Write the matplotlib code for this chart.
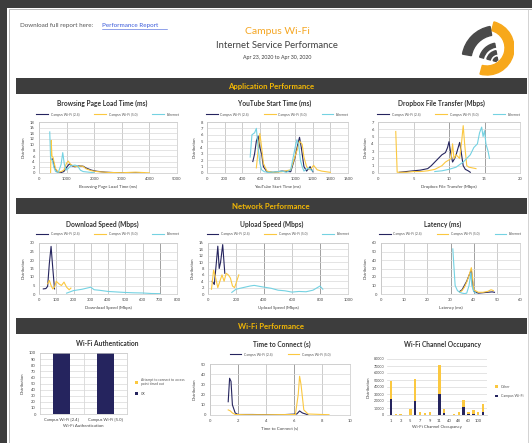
import numpy as np
import matplotlib.pyplot as plt
from matplotlib.patches import Rectangle, Wedge

plt.rcParams['font.family'] = ['Lato', 'DejaVu Sans']

W, H = 532, 443
NAVY = '#25245e'
GOLD = '#fbc840'
CYAN = '#74d2e2'
DARK = '#3d3d3d'
BAR_TXT = '#f2b705'
TXT = '#404040'

series_names = ['Campus Wi-Fi (2.4)', 'Campus Wi-Fi (5.0)', 'Ethernet']

# Browsing Page Load Time (ms)
browse_24_x = [450, 500, 560, 650, 750, 900, 1000, 1100, 1200, 1300, 1450, 1600, 1700, 1900, 2100, 2400, 2800, 3500, 3800]
browse_24_y = [4.8, 5, 2, 0.5, 0, 0.5, 2, 3.2, 2.5, 2.2, 2.5, 2.4, 1.8, 1.0, 0.6, 0.3, 0.1, 0.05, 0.05]
browse_50_x = [420, 440, 470, 510, 540, 600, 700, 800, 900, 1000, 1060, 1150, 1250, 1400, 1500, 1600, 1700, 1900, 2100, 2500, 3000, 3500, 3700, 4000]
browse_50_y = [0, 11.5, 6, 5.5, 4, 1.5, 0.3, 0.5, 1, 3.5, 4.2, 3, 2.5, 2.2, 2.5, 2.3, 1.5, 0.8, 0.5, 0.2, 0.1, 0.3, 0.2, 0.05]
browse_eth_x = [390, 420, 480, 540, 600, 700, 800, 860, 920, 980, 1050, 1150, 1300, 1400, 1500, 1600, 1800, 2000]
browse_eth_y = [14.5, 5, 4.5, 2, 0.5, 0.2, 3, 7.2, 3, 1, 1.5, 2.5, 2.8, 2.5, 1.0, 0.5, 0.3, 0.1]

# YouTube Start Time (ms)
yt_24_x = [520, 540, 560, 580, 600, 620, 640, 680, 750, 850, 950, 1000, 1030, 1050, 1070, 1100, 1130, 1170, 1200]
yt_24_y = [1.8, 3, 5, 5.8, 4, 3, 1, 0.2, 0.1, 0.3, 0.2, 2.5, 4.5, 5.6, 4, 1, 0.3, 1, 0.2]
yt_50_x = [560, 580, 600, 620, 640, 680, 750, 850, 950, 1020, 1050, 1080, 1100, 1130, 1170, 1210, 1250, 1300, 1350, 1400]
yt_50_y = [0.8, 3.5, 6.2, 4, 1.5, 0.3, 0.1, 0.2, 0.5, 3.5, 5, 4.5, 2.5, 1, 0.5, 1.2, 0.5, 0.3, 0.2, 0.1]
yt_eth_x = [490, 510, 540, 560, 580, 600, 620, 650, 700, 800, 850, 900, 950, 1000, 1020, 1040, 1060, 1080, 1100, 1150, 1200]
yt_eth_y = [2.5, 6, 6.3, 7, 4, 1.5, 0.5, 0.2, 0.1, 0.2, 0.3, 0.1, 0.5, 4, 5.2, 4.5, 2, 1, 0.3, 0.8, 0.3]

# Dropbox File Transfer (Mbps)
drop_24_x = [3, 4, 5, 6, 7, 7.5, 8, 8.5, 9, 9.5, 9.8, 10, 10.2, 10.5, 10.8, 11, 11.5, 11.7, 12, 12.3, 12.7, 13]
drop_24_y = [0.1, 0.2, 0.3, 0.4, 0.6, 1, 1.5, 2, 2.5, 2.8, 3.5, 4.3, 3, 1.5, 2, 2.5, 4.2, 3, 1, 0.5, 0.3, 0.1]
drop_50_x = [2.5, 2.7, 4, 5, 6, 7, 8, 9, 9.5, 10, 10.3, 10.5, 10.7, 11, 11.5, 11.8, 12, 12.2, 12.5, 12.8, 13.3, 13.8]
drop_50_y = [5.7, 0.1, 0.1, 0.2, 0.2, 0.3, 0.5, 1, 1.5, 1.8, 2.0, 4.0, 2, 2.5, 2, 4.5, 6.5, 4, 1, 0.8, 0.7, 0.6]
drop_eth_x = [8, 9, 10, 11, 12, 13, 13.5, 14, 14.3, 14.6, 14.8, 15, 15.2, 15.5, 15.7]
drop_eth_y = [0.2, 0.3, 0.5, 0.8, 1.5, 2.5, 3.5, 4, 5.5, 6.3, 5, 5.8, 4, 3, 2]

# Download Speed (Mbps)
down_24_x = [25, 40, 50, 60, 70, 80, 90]
down_24_y = [3, 3.2, 4.5, 18, 28, 15, 3]
down_50_x = [50, 60, 70, 80, 90, 100, 115, 130, 145, 160, 175, 185]
down_50_y = [6, 8, 5, 3, 4, 7.5, 6, 5, 7, 4, 2.5, 3.5]
down_eth_x = [160, 200, 250, 300, 320, 350, 400, 450, 500, 550, 600, 650, 700]
down_eth_y = [0.5, 2, 2.8, 4, 2.5, 2.2, 1.5, 1.2, 0.9, 0.7, 0.6, 0.3, 0.2]

# Upload Speed (Mbps)
up_24_x = [30, 45, 60, 70, 80, 90, 105, 120]
up_24_y = [4, 3, 10, 15, 8, 10, 15.5, 6.5]
up_50_x = [25, 40, 55, 70, 85, 100, 115, 130, 145, 160, 175, 190, 205, 220]
up_50_y = [1.5, 7.5, 5, 2, 4, 6, 4, 6.5, 6, 5, 2.5, 2, 4, 6]
up_eth_x = [170, 200, 250, 300, 330, 380, 450, 500, 550, 600, 650, 700, 750, 800, 820]
up_eth_y = [0.5, 1.5, 2, 2.5, 2.7, 2.3, 1.8, 1.2, 1.0, 0.6, 0.8, 0.7, 1.2, 2.5, 1.5]

# Latency (ms)
lat_24_x = [34, 35, 36, 37, 38, 39, 39.5, 40, 42, 44, 46, 48, 49]
lat_24_y = [3, 5, 10, 15, 22, 28, 15, 3, 1, 1.5, 2, 2.5, 2]
lat_50_x = [34, 35, 36, 37, 38, 39, 39.5, 40, 42, 44, 46, 47.5, 48.5]
lat_50_y = [2, 4, 8, 14, 22, 31, 20, 5, 2, 2, 3, 5, 4]
lat_eth_x = [31, 32, 33, 34, 35, 36, 37, 38, 38.8, 39.2, 40, 41]
lat_eth_y = [53, 10, 4, 2, 1, 0.5, 1, 10, 25, 10, 3, 1]

# Wi-Fi Authentication (%)
auth_cats = ['Campus Wi-Fi [2.4]', 'Campus Wi-Fi [5.0]']
auth_ok = [99.5, 99.5]
auth_timeout = [0.5, 0.5]

# Time to Connect (s)
conn_24_x = [1.3, 1.4, 1.5, 1.6, 1.8, 2, 3, 4, 5, 6.2, 6.4, 6.6, 7]
conn_24_y = [13, 36, 33, 10, 2, 0.5, 0.5, 0.3, 0.2, 1, 4, 2, 0.2]
conn_50_x = [1.3, 1.45, 1.6, 1.8, 2.5, 4, 6.1, 6.3, 6.4, 6.5, 6.7, 7, 8, 8.5]
conn_50_y = [5, 4, 2, 0.5, 0.3, 0.2, 0.5, 20, 38, 30, 5, 1, 0.5, 0.3]

# Wi-Fi Channel Occupancy
channels = ['1', '2', '3', '4', '5', '6', '7', '8', '9', '10', '11',
            '36', '40', '44', '48', '52', '60', '64', '100', '149']
chan_campus = [23000, 0, 0, 0, 0, 19500, 0, 0, 0, 0, 30000,
               2500, 0, 0, 0, 11000, 2000, 2000, 0, 5000]
chan_other = [26000, 2000, 2000, 500, 8000, 32500, 4000, 2500, 4500, 500, 42000,
              5500, 500, 2000, 4000, 11000, 3000, 4500, 4000, 10500]


fig = plt.figure(figsize=(W / 100, H / 100), dpi=100, facecolor='white')


def add_px(x0, y0, x1, y1):
    return fig.add_axes([x0 / W, 1 - y1 / H, (x1 - x0) / W, (y1 - y0) / H])


# page frame, header and section bars
bg = fig.add_axes([0, 0, 1, 1])
bg.set_xlim(0, W)
bg.set_ylim(H, 0)
bg.axis('off')
bg.add_patch(Rectangle((0, 0), W, 8, color=DARK, lw=0))
bg.add_patch(Rectangle((0, 0), 7, H, color=DARK, lw=0))
bg.plot([8.5, 8.5, W], [H, 9, 9], color='#b0b0b0', lw=0.6)
bg.plot([527.5, 527.5], [9, H], color='#c0c0c0', lw=0.5)

bg.text(20, 25, 'Download full report here: ', fontsize=4.5, color='#555555', va='center')
bg.text(102, 25, 'Performance Report', fontsize=4.5, color='#3b5bdb', va='center')
bg.plot([102, 167], [28.5, 28.5], color='#3b5bdb', lw=0.4)
bg.text(277, 31, 'Campus Wi-Fi', fontsize=7.5, color='#f5a623', ha='center', va='center')
bg.text(277, 45, 'Internet Service Performance', fontsize=6.8, color=TXT, ha='center', va='center')
bg.text(277, 57.5, 'Apr 23, 2020 to Apr 30, 2020', fontsize=3.8, color=TXT, ha='center', va='center')

for y0, label in [(78, 'Application Performance'), (198, 'Network Performance'), (318, 'Wi-Fi Performance')]:
    bg.add_patch(Rectangle((16, y0), 511, 16, color=DARK, lw=0))
    bg.text(271, y0 + 8.5, label, fontsize=5.6, color=BAR_TXT, weight='bold', ha='center', va='center')

# logo
lg = add_px(458, 20, 514, 76)
lg.set_xlim(0, 56)
lg.set_ylim(0, 56)
lg.set_aspect('equal')
lg.axis('off')
lg.add_patch(Wedge((29, 28), 27, -105, 75, width=9, color='#f7a81b'))
lg.add_patch(Wedge((38, 16), 34, 100, 170, width=9, color='#4a4a4a'))
lg.add_patch(Wedge((40, 14), 19, 100, 165, width=4, color='#4a4a4a'))
lg.add_patch(Wedge((40, 14), 11.5, 100, 165, width=3.5, color='#4a4a4a'))
lg.add_patch(Wedge((40, 14), 5, 100, 165, width=3, color='#4a4a4a'))


def style(ax, xlim, xstep, ylim, ystep, xlabel):
    ax.set_xlim(xlim)
    ax.set_ylim(ylim)
    ax.set_xticks(np.arange(xlim[0], xlim[1] + xstep / 2, xstep))
    ax.set_yticks(np.arange(ylim[0], ylim[1] + ystep / 2, ystep))
    ax.tick_params(labelsize=3, length=0, pad=3, colors='#444444')
    ax.grid(True, axis='y', color='#d9d9d9', lw=0.5)
    ax.grid(True, axis='x', color='#b8b8b8', lw=0.5)
    ax.set_axisbelow(True)
    for s in ax.spines.values():
        s.set_color('#c8c8c8')
        s.set_linewidth(0.5)
    ax.set_xlabel(xlabel, fontsize=3.2, color='#444444', labelpad=2.5)
    ax.set_ylabel('Distribution', fontsize=3, color='#444444', labelpad=3)


def title(text, cx, cy):
    bg.text(cx, cy, text, fontsize=4.8, weight='bold', color='#333333', ha='center', va='center')


def line_chart(rect, ttl, cx, ty, ly, data, xlim, xstep, ylim, ystep, marks=(), names=series_names):
    ax = add_px(*rect)
    for (x, y), c, n in zip(data, [NAVY, GOLD, CYAN], names):
        ax.plot(x, y, color=c, lw=0.8, label=n)
    for m in marks:
        ax.axvline(m, color='#555555', lw=0.6, zorder=0.5)
    style(ax, xlim, xstep, ylim, ystep, ttl)
    top, h = rect[1], rect[3] - rect[1]
    ax.legend(loc='center', bbox_to_anchor=(0.5, 1 + (top - ly) / h), ncol=len(data),
              fontsize=2.4, frameon=False, handlelength=3.5, columnspacing=4.5,
              handletextpad=0.8, borderaxespad=0, labelcolor='#555555')
    title(ttl, cx, ty)
    return ax


line_chart((39, 122, 177, 173), 'Browsing Page Load Time (ms)', 102, 103, 114.5,
           [(browse_24_x, browse_24_y), (browse_50_x, browse_50_y), (browse_eth_x, browse_eth_y)],
           (0, 5000), 1000, (0, 18), 2)
line_chart((207, 122, 348, 173), 'YouTube Start Time (ms)', 275, 103, 114.5,
           [(yt_24_x, yt_24_y), (yt_50_x, yt_50_y), (yt_eth_x, yt_eth_y)],
           (0, 1600), 200, (0, 8), 1)
line_chart((378, 122, 520, 173), 'Dropbox File Transfer (Mbps)', 441, 103, 114.5,
           [(drop_24_x, drop_24_y), (drop_50_x, drop_50_y), (drop_eth_x, drop_eth_y)],
           (0, 20), 5, (0, 7), 1, marks=(10, 15))
line_chart((39, 243, 177, 294), 'Download Speed (Mbps)', 102, 224, 234,
           [(down_24_x, down_24_y), (down_50_x, down_50_y), (down_eth_x, down_eth_y)],
           (0, 800), 100, (0, 30), 5, marks=(700,))
line_chart((208, 243, 348, 294), 'Upload Speed (Mbps)', 272, 224, 234,
           [(up_24_x, up_24_y), (up_50_x, up_50_y), (up_eth_x, up_eth_y)],
           (0, 1000), 200, (0, 16), 2, marks=(400, 800))
line_chart((381, 243, 520, 294), 'Latency (ms)', 443, 224, 234,
           [(lat_24_x, lat_24_y), (lat_50_x, lat_50_y), (lat_eth_x, lat_eth_y)],
           (0, 60), 10, (0, 60), 10, marks=(30, 40))
line_chart((210, 364, 350, 415), 'Time to Connect (s)', 282, 344, 354.5,
           [(conn_24_x, conn_24_y), (conn_50_x, conn_50_y)],
           (0, 10), 2, (0, 50), 10, marks=(2, 6), names=series_names[:2])

# Wi-Fi Authentication
ax = add_px(40, 353, 127, 414)
pos = np.arange(len(auth_cats))
ax.bar(pos, auth_ok, width=0.4, color=NAVY, label='OK')
ax.bar(pos, auth_timeout, width=0.4, bottom=auth_ok, color=GOLD,
       label='Attempt to connect to access\npoint timed out')
ax.set_xlim(-0.5, 1.5)
ax.set_ylim(0, 100)
ax.set_yticks(np.arange(0, 101, 10))
ax.set_xticks(pos)
ax.set_xticklabels(auth_cats)
ax.set_xticks([0.5], minor=True)
ax.tick_params(labelsize=3, length=0, pad=3, colors='#444444')
ax.tick_params(which='minor', length=0)
ax.grid(True, axis='y', color='#d9d9d9', lw=0.5)
ax.grid(True, axis='x', which='minor', color='#d0d0d0', lw=0.5)
ax.set_axisbelow(True)
for s in ax.spines.values():
    s.set_color('#c8c8c8')
    s.set_linewidth(0.5)
ax.set_xlabel('Wi-Fi Authentication', fontsize=3.2, color='#444444', labelpad=1.5)
ax.set_ylabel('Distribution', fontsize=3, color='#444444', labelpad=3)
h, l = ax.get_legend_handles_labels()
ax.legend(h[::-1], l[::-1], loc='center left', bbox_to_anchor=(1.06, 0.45), fontsize=2.4,
          frameon=False, handlelength=0.8, handleheight=0.8, labelspacing=1.6, labelcolor='#555555')
title('Wi-Fi Authentication', 107, 344)

# Wi-Fi Channel Occupancy
ax = add_px(387, 359, 487, 415)
pos = np.arange(len(channels))
ax.bar(pos, chan_campus, width=0.5, color=NAVY, label='Campus Wi-Fi')
ax.bar(pos, chan_other, width=0.5, bottom=chan_campus, color=GOLD, label='Other')
ax.set_xlim(-0.8, len(channels) - 0.2)
ax.set_ylim(0, 80000)
ax.set_yticks(np.arange(0, 80001, 10000))
ax.set_xticks(pos[::2])
ax.set_xticklabels(channels[::2])
ax.tick_params(labelsize=3, length=0, pad=3, colors='#444444')
ax.tick_params(axis='y', labelsize=2.6, pad=2)
ax.grid(True, axis='y', color='#d9d9d9', lw=0.5)
ax.set_axisbelow(True)
for s in ax.spines.values():
    s.set_visible(False)
ax.spines['bottom'].set_visible(True)
ax.spines['bottom'].set_color('#c8c8c8')
ax.spines['bottom'].set_linewidth(0.5)
ax.set_xlabel('Wi-Fi Channel Occupancy', fontsize=3.2, color='#444444', labelpad=1.5)
ax.set_ylabel('Distribution', fontsize=3, color='#444444', labelpad=2)
h, l = ax.get_legend_handles_labels()
ax.legend(h[::-1], l[::-1], loc='center left', bbox_to_anchor=(1.05, 0.42), fontsize=2.6,
          frameon=False, handlelength=0.8, handleheight=0.8, labelspacing=1.6, labelcolor='#555555')
title('Wi-Fi Channel Occupancy', 443, 344)

fig.savefig('out.png', dpi=100, facecolor='white')
